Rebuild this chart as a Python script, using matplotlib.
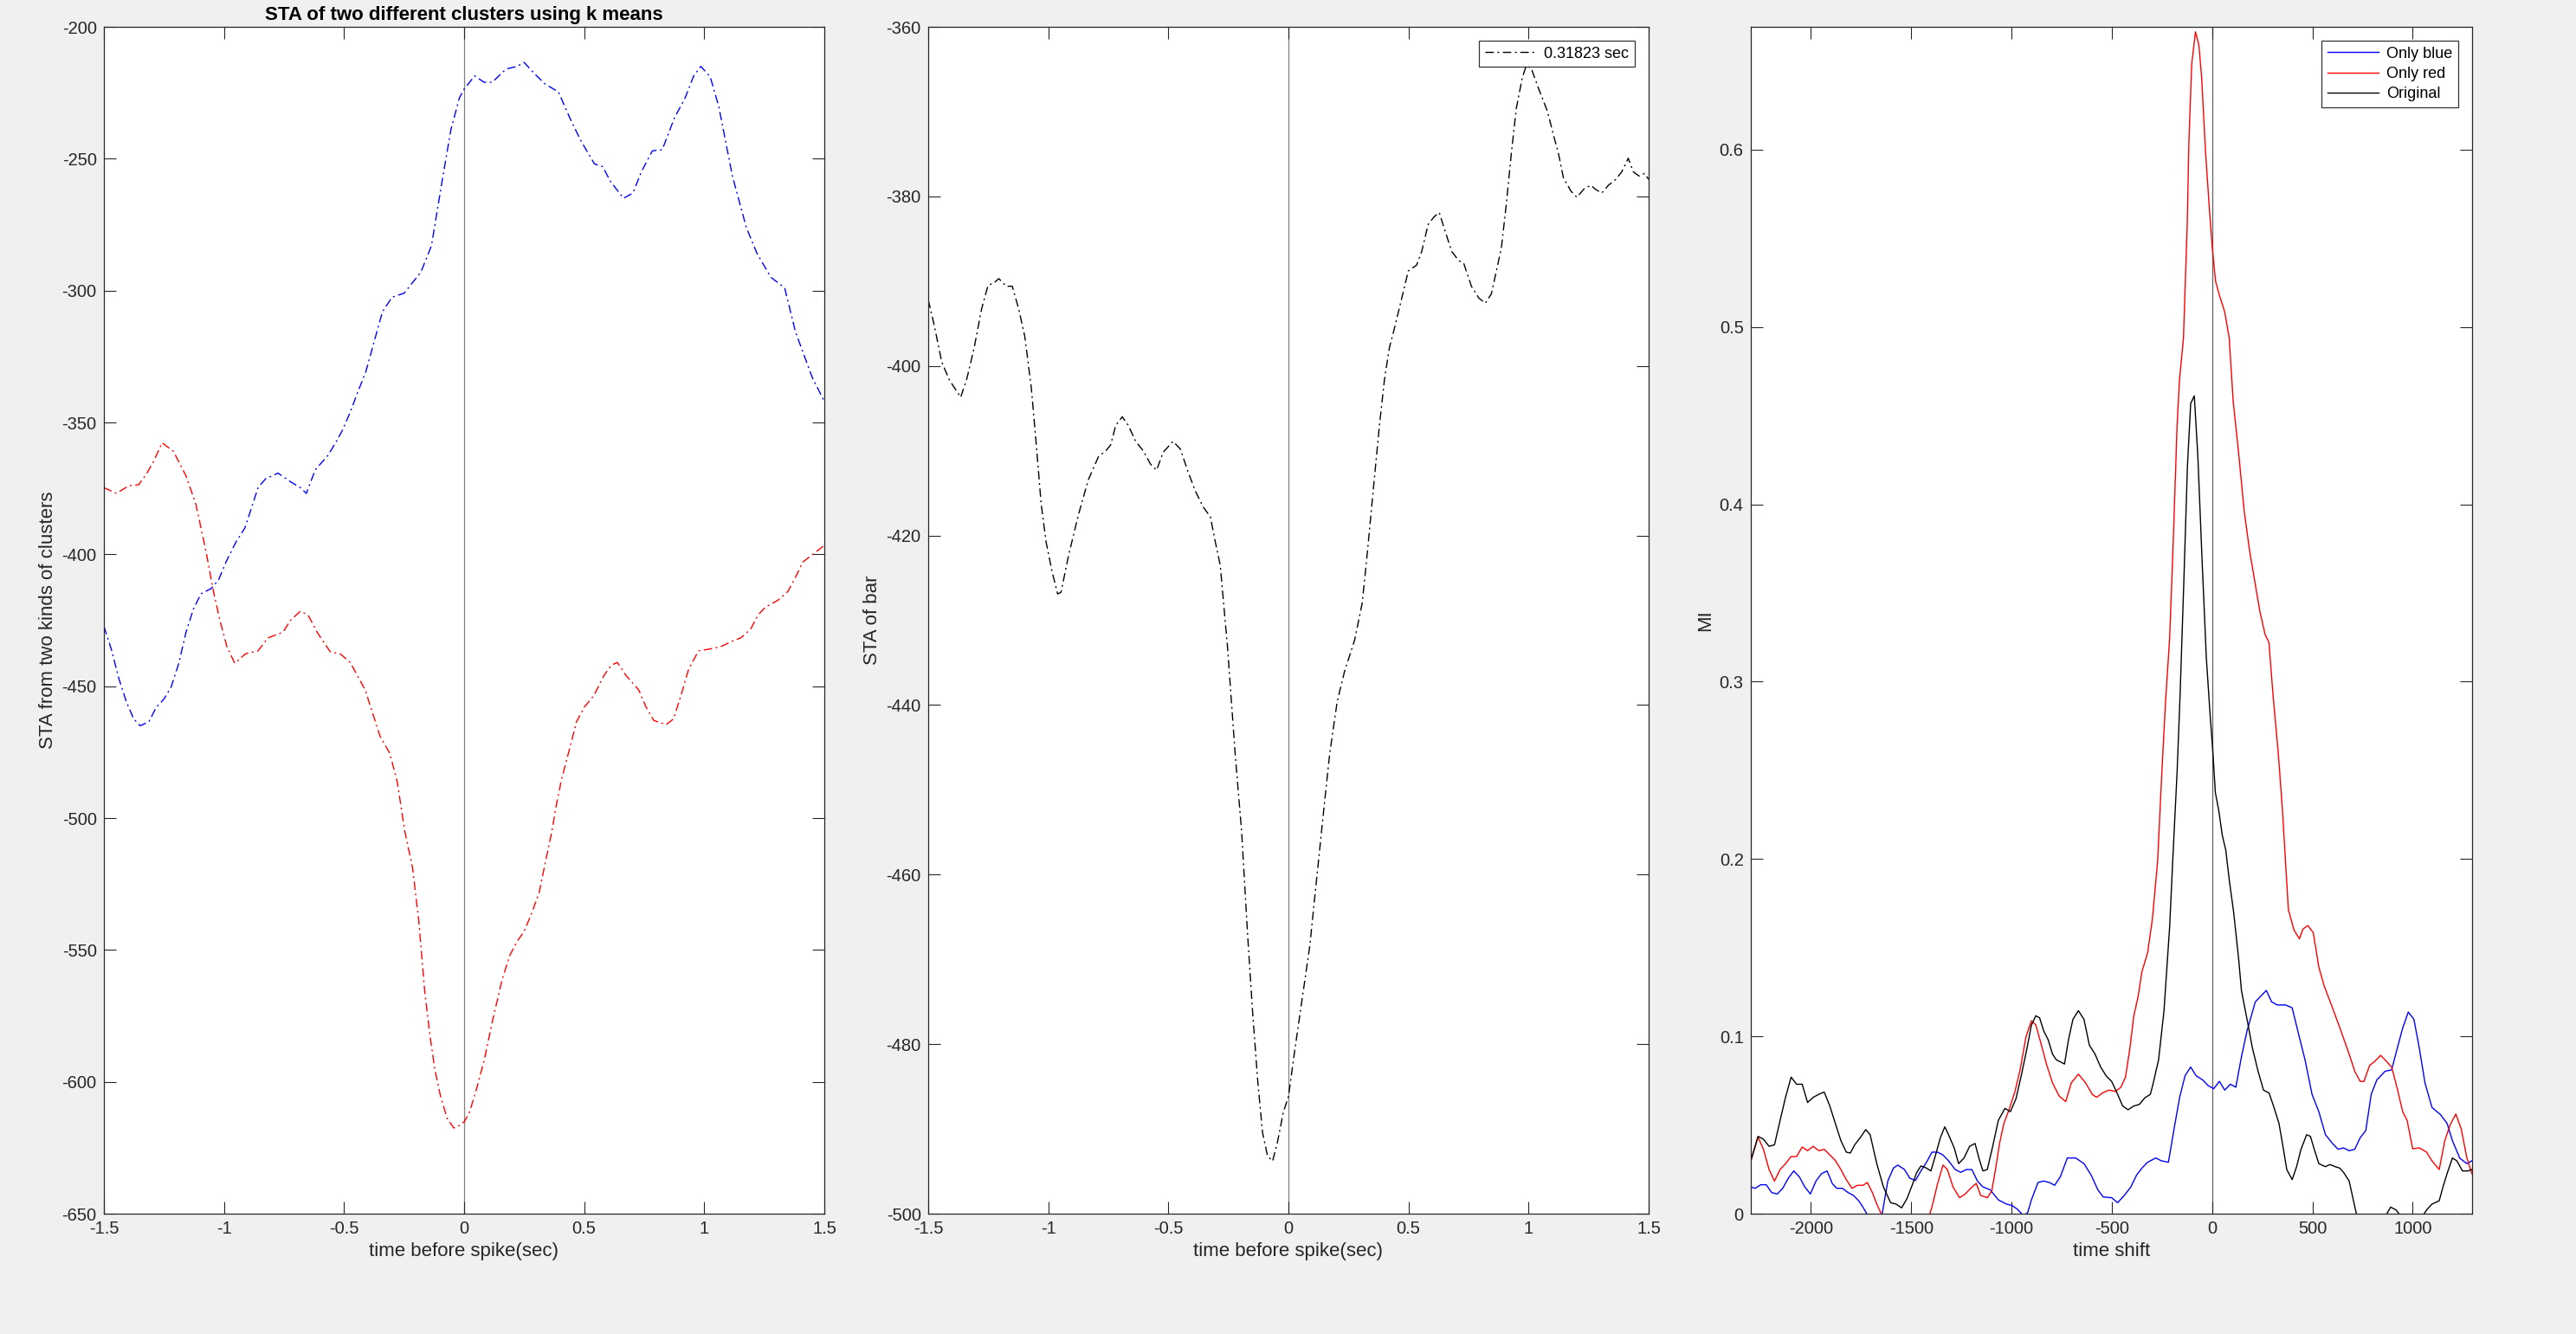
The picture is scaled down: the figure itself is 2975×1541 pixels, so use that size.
import matplotlib
matplotlib.use("Agg")
import matplotlib.pyplot as plt
import numpy as np

plt.rcParams['font.family'] = ['Liberation Sans', 'DejaVu Sans']
plt.rcParams['axes.unicode_minus'] = False

# ---------------- Panel 1: STA of two clusters ----------------
blue_t = [-1.5, -1.469, -1.438, -1.407, -1.376, -1.349, -1.313, -1.282, -1.251, -1.22,
          -1.189, -1.158, -1.127, -1.096, -1.054, -1.023, -0.992, -0.951, -0.913, -0.889,
          -0.858, -0.827, -0.775, -0.723, -0.682, -0.657, -0.62, -0.568, -0.537, -0.505,
          -0.474, -0.443, -0.41, -0.34, -0.30, -0.25, -0.18, -0.136, -0.09, -0.055,
          -0.02, 0.0, 0.044, 0.083, 0.117, 0.175, 0.22, 0.25, 0.29, 0.336,
          0.393, 0.44, 0.485, 0.543, 0.577, 0.61, 0.664, 0.703, 0.738, 0.784,
          0.825, 0.876, 0.92, 0.956, 0.986, 1.025, 1.06, 1.117, 1.175, 1.22,
          1.278, 1.335, 1.38, 1.45, 1.5]
blue_v = [-427.3, -436, -447, -455.8, -462.4, -465, -463.5, -458, -455, -450.3,
          -441.6, -429.5, -420.7, -415, -413, -409.8, -403, -395.5, -390, -383.4,
          -374.7, -371.4, -369.2, -372.5, -374.7, -376.9, -368, -362.6, -358, -352.7,
          -346, -338.5, -331, -308, -302.5, -301, -293, -283, -257.6, -239,
          -227, -223.6, -218.6, -221, -221, -216, -215, -213.5, -217.5, -221.6,
          -224.7, -234.5, -243, -252, -253, -258.7, -265, -263, -255, -247,
          -246.6, -234.5, -227, -218.6, -215, -219, -230, -256.5, -276, -286,
          -295, -299, -315.7, -333, -342]

red_t = [-1.5, -1.448, -1.396, -1.355, -1.324, -1.293, -1.258, -1.21, -1.158, -1.117,
         -1.075, -1.044, -1.017, -0.988, -0.955, -0.91, -0.858, -0.817, -0.754, -0.723,
         -0.682, -0.65, -0.609, -0.557, -0.516, -0.474, -0.412, -0.35, -0.309, -0.278,
         -0.247, -0.215, -0.189, -0.164, -0.143, -0.122, -0.097, -0.07, -0.043, -0.029,
         0.002, 0.023, 0.054, 0.085, 0.116, 0.157, 0.189, 0.22, 0.25, 0.282,
         0.313, 0.334, 0.365, 0.385, 0.406, 0.437, 0.468, 0.5, 0.54, 0.582,
         0.613, 0.638, 0.675, 0.727, 0.758, 0.79, 0.841, 0.872, 0.903, 0.934,
         0.976, 1.017, 1.069, 1.12, 1.152, 1.193, 1.224, 1.255, 1.307, 1.349,
         1.38, 1.41, 1.452, 1.5]
red_v = [-374.7, -376.9, -374, -373.6, -369.7, -364.8, -357.7, -361, -370.3, -381,
         -398.8, -414, -425, -435, -441.3, -437.7, -436.6, -431.7, -429.5, -425,
         -421.6, -423, -430, -437, -437.7, -441, -451.4, -469, -475.5, -486.5,
         -505, -518.7, -538.8, -565.7, -581.9, -595.3, -606, -614, -617.5, -617.2,
         -615, -611.4, -602, -591.3, -577.8, -561.7, -552.3, -546.9, -542.9, -536,
         -528, -518.7, -505.3, -494.6, -485.2, -474.5, -463.5, -458, -453.6, -446,
         -442, -441, -446, -451.4, -458, -463, -464.6, -462.4, -453.6, -443.8,
         -436.6, -436, -435, -432.8, -431.7, -428.4, -423, -420, -417.4, -414,
         -408.7, -403, -400, -396.6]

# ---------------- Panel 2: STA of bar ----------------
bar_t = [-1.5, -1.475, -1.444, -1.413, -1.388, -1.365, -1.34, -1.309, -1.278, -1.251,
         -1.226, -1.206, -1.175, -1.15, -1.123, -1.098, -1.071, -1.05, -1.03, -1.009,
         -0.984, -0.961, -0.947, -0.916, -0.874, -0.833, -0.791, -0.76, -0.74, -0.719,
         -0.692, -0.667, -0.636, -0.605, -0.574, -0.549, -0.522, -0.481, -0.45, -0.418,
         -0.387, -0.356, -0.325, -0.305, -0.284, -0.253, -0.222, -0.195, -0.17, -0.149,
         -0.128, -0.108, -0.087, -0.066, -0.046, -0.021, 0.0, 0.027, 0.058, 0.089,
         0.12, 0.151, 0.172, 0.203, 0.234, 0.276, 0.307, 0.327, 0.348, 0.379,
         0.4, 0.42, 0.441, 0.472, 0.499, 0.534, 0.555, 0.582, 0.607, 0.628,
         0.648, 0.68, 0.71, 0.73, 0.762, 0.793, 0.82, 0.845, 0.866, 0.887,
         0.907, 0.928, 0.949, 0.974, 0.99, 1.01, 1.042, 1.079, 1.104, 1.125,
         1.145, 1.177, 1.201, 1.235, 1.26, 1.28, 1.305, 1.332, 1.363, 1.388,
         1.415, 1.436, 1.46, 1.483, 1.5]
bar_v = [-392.2, -395.2, -399.5, -401.6, -402.7, -403.7, -401.6, -397.9, -393.3, -390.5,
         -390.2, -389.7, -390.6, -390.6, -393.3, -396.5, -402.5, -409.3, -416.2, -420.8,
         -424.3, -426.9, -426.7, -422.4, -417.5, -413.4, -410.7, -410, -409.3, -407,
         -406, -407, -408.9, -410, -411.6, -412.3, -410.2, -408.9, -409.8, -412.5,
         -414.8, -416.6, -417.8, -420.7, -423.5, -433.4, -445.7, -454.9, -467.1, -476.3,
         -484.3, -490.4, -493.2, -493.8, -491.6, -488, -486.2, -480.6, -474.5, -468.4,
         -459.8, -451.3, -445.7, -439.6, -436, -432.3, -428, -422.5, -416.2, -407,
         -401.6, -397.9, -395.6, -392, -388.8, -388.1, -386.5, -383.3, -382.4, -381.9,
         -383.7, -386.5, -387.6, -387.9, -390.6, -392, -392.6, -391.5, -388.8, -386,
         -381, -375, -369.6, -366, -364.6, -364.8, -367.3, -370, -372.8, -375,
         -377.8, -379.4, -380.1, -379, -378.7, -379.2, -379.6, -378.7, -378, -377.1,
         -375.5, -377.1, -377.6, -377.3, -378]
bar_label = "0.31823 sec"

# ---------------- Panel 3: MI vs time shift ----------------
orig_t = [-2300, -2264, -2237, -2209, -2182, -2154, -2127, -2099, -2072, -2044,
          -2017, -1989, -1961, -1934, -1906, -1879, -1851, -1824, -1804, -1782,
          -1755, -1727, -1705, -1672, -1639, -1603, -1576, -1548, -1521, -1493,
          -1474, -1452, -1424, -1402, -1383, -1355, -1333, -1314, -1286, -1264,
          -1237, -1209, -1182, -1163, -1143, -1121, -1094, -1066, -1033, -1006,
          -978, -950, -923, -901, -879, -860, -840, -818, -796, -777,
          -736, -716, -694, -667, -639, -612, -584, -556, -529, -501,
          -474, -446, -419, -391, -363, -336, -308, -295, -267, -240,
          -212, -194, -175, -160, -141, -123, -107, -89, -71, -50,
          -29, -10, 3, 16, 34, 50, 68, 86, 107, 132,
          146, 174, 201, 229, 256, 284, 306, 333, 353, 372,
          399, 421, 443, 471, 490, 509, 532, 565, 587, 614,
          636, 655, 683, 702, 719, 780, 840, 890, 917, 931,
          1000, 1069, 1096, 1132, 1151, 1171, 1198, 1220, 1248, 1275,
          1295]
orig_v = [0.0298, 0.0436, 0.042, 0.038, 0.0388, 0.0526, 0.0656, 0.077, 0.073, 0.073,
          0.0627, 0.0656, 0.0673, 0.0686, 0.0607, 0.051, 0.0412, 0.0347, 0.0342, 0.0388,
          0.0428, 0.0474, 0.0445, 0.0282, 0.0151, 0.0062, 0.0054, 0.0033, 0.0086, 0.0168,
          0.023, 0.0269, 0.0257, 0.0241, 0.0314, 0.0428, 0.049, 0.0445, 0.0371, 0.0282,
          0.0314, 0.038, 0.0396, 0.0314, 0.0241, 0.0249, 0.038, 0.0526, 0.0594, 0.0575,
          0.0648, 0.0787, 0.0933, 0.1064, 0.1116, 0.1104, 0.1031, 0.0982, 0.09, 0.0868,
          0.0844, 0.0982, 0.1096, 0.1145, 0.1096, 0.095, 0.09, 0.0827, 0.0778, 0.0746,
          0.068, 0.0607, 0.0586, 0.0607, 0.0616, 0.0653, 0.0673, 0.073, 0.0868, 0.1145,
          0.1616, 0.205, 0.2484, 0.2919, 0.357, 0.422, 0.4569, 0.4612, 0.4265, 0.368,
          0.3136, 0.281, 0.2615, 0.2375, 0.2267, 0.2137, 0.205, 0.1876, 0.1702, 0.1438,
          0.1259, 0.1096, 0.0933, 0.0803, 0.0697, 0.068, 0.0607, 0.051, 0.038, 0.0249,
          0.0192, 0.0265, 0.0363, 0.0445, 0.0436, 0.0363, 0.0282, 0.0265, 0.0277, 0.0265,
          0.0257, 0.0233, 0.0184, 0.0086, 0.0, -0.010, -0.006, 0.0037, 0.0021, 0.0,
          -0.010, 0.0021, 0.0054, 0.0073, 0.0151, 0.0225, 0.0314, 0.0298, 0.0241, 0.0241,
          0.0249]

red_mi_t = [-2300, -2264, -2237, -2209, -2182, -2154, -2127, -2099, -2072, -2044,
            -2017, -1989, -1961, -1934, -1906, -1879, -1851, -1824, -1796, -1768,
            -1741, -1719, -1694, -1672, -1650, -1600, -1520, -1450, -1410, -1397,
            -1369, -1342, -1320, -1292, -1259, -1231, -1204, -1176, -1154, -1121,
            -1099, -1080, -1060, -1038, -1011, -983, -956, -928, -901, -879,
            -851, -824, -796, -763, -730, -702, -667, -631, -598, -576,
            -548, -515, -482, -455, -432, -410, -391, -369, -350, -322,
            -298, -272, -251, -233, -212, -194, -175, -163, -143, -124,
            -116, -102, -83, -66, -52, -33, -14, 0, 17, 36,
            63, 85, 105, 132, 160, 186, 212, 238, 264, 283,
            304, 330, 351, 380, 408, 435, 453, 477, 504, 532,
            559, 600, 642, 683, 711, 738, 757, 785, 812, 840,
            868, 895, 923, 950, 972, 1000, 1033, 1069, 1096, 1132,
            1160, 1187, 1215, 1242, 1270, 1295]
red_mi_v = [0.0298, 0.0432, 0.0363, 0.0249, 0.0184, 0.0249, 0.0282, 0.0322, 0.0322, 0.0376,
            0.0355, 0.038, 0.0355, 0.0363, 0.0331, 0.0301, 0.0249, 0.0192, 0.0143, 0.016,
            0.016, 0.0176, 0.0119, 0.0054, 0.0, -0.010, -0.014, -0.008, -0.001, 0.0037,
            0.0168, 0.0274, 0.0249, 0.0151, 0.009, 0.0111, 0.0143, 0.0171, 0.0103, 0.009,
            0.0127, 0.0249, 0.0396, 0.051, 0.0591, 0.0689, 0.0819, 0.0998, 0.1088, 0.1064,
            0.095, 0.0836, 0.0738, 0.0664, 0.0632, 0.0738, 0.0787, 0.0738, 0.0673, 0.0656,
            0.068, 0.0697, 0.0689, 0.0713, 0.077, 0.0933, 0.1112, 0.1226, 0.1365, 0.147,
            0.166, 0.1985, 0.2484, 0.2875, 0.3244, 0.3787, 0.4439, 0.4700, 0.4938, 0.5587,
            0.604, 0.648, 0.6665, 0.659, 0.64, 0.599, 0.567, 0.5457, 0.526, 0.518,
            0.5084, 0.4938, 0.4580, 0.429, 0.396, 0.3744, 0.357, 0.3396, 0.3266, 0.3223,
            0.2919, 0.2593, 0.2267, 0.1715, 0.16, 0.155, 0.1605, 0.1625, 0.1585, 0.139,
            0.1283, 0.1161, 0.1031, 0.09, 0.0803, 0.0746, 0.0746, 0.0836, 0.086, 0.0893,
            0.086, 0.0827, 0.0705, 0.0575, 0.0526, 0.0366, 0.0371, 0.0347, 0.0298, 0.0249,
            0.0412, 0.0502, 0.0562, 0.0477, 0.0314, 0.0225]

blue_mi_t = [-2300, -2278, -2251, -2223, -2196, -2168, -2141, -2113, -2086, -2058,
             -2031, -2003, -1975, -1948, -1920, -1893, -1871, -1843, -1815, -1788,
             -1760, -1741, -1722, -1690, -1645, -1617, -1589, -1567, -1534, -1507,
             -1479, -1452, -1424, -1397, -1369, -1342, -1314, -1281, -1253, -1226,
             -1198, -1170, -1143, -1107, -1066, -1025, -997, -970, -942, -920,
             -901, -868, -840, -812, -785, -757, -722, -680, -639, -603,
             -570, -543, -501, -471, -438, -405, -377, -350, -322, -281,
             -253, -218, -190, -162, -135, -107, -80, -47, -19, 8,
             36, 63, 91, 118, 146, 174, 215, 242, 270, 297,
             325, 366, 399, 427, 463, 498, 532, 565, 600, 628,
             655, 683, 711, 738, 766, 793, 821, 862, 895, 923,
             950, 978, 1006, 1033, 1061, 1096, 1138, 1171, 1198, 1234,
             1270, 1295]
blue_mi_v = [0.0151, 0.0143, 0.0163, 0.0163, 0.0119, 0.0111, 0.0143, 0.02, 0.0241, 0.0208,
             0.0151, 0.0111, 0.0184, 0.0225, 0.0241, 0.0168, 0.0143, 0.0143, 0.0119, 0.0103,
             0.007, 0.0037, 0.0, -0.006, 0.0, 0.0184, 0.0257, 0.0274, 0.0249, 0.02,
             0.0187, 0.0241, 0.029, 0.0347, 0.0347, 0.0331, 0.0298, 0.0249, 0.0233, 0.0249,
             0.0249, 0.0184, 0.0151, 0.0135, 0.0078, 0.0054, 0.0046, 0.0024, -0.001, 0.0005,
             0.0078, 0.0176, 0.0184, 0.0176, 0.016, 0.0208, 0.0314, 0.0314, 0.0282, 0.0217,
             0.0135, 0.0094, 0.009, 0.0062, 0.0103, 0.0151, 0.0217, 0.0257, 0.029, 0.0314,
             0.0298, 0.029, 0.0477, 0.0656, 0.0778, 0.0827, 0.0778, 0.0754, 0.0721, 0.0705,
             0.0746, 0.0697, 0.073, 0.0713, 0.0884, 0.1031, 0.1194, 0.1226, 0.1259, 0.1194,
             0.1177, 0.1177, 0.1161, 0.1031, 0.0868, 0.0673, 0.0575, 0.0445, 0.0396, 0.0363,
             0.0371, 0.0355, 0.0363, 0.0428, 0.0469, 0.0673, 0.0754, 0.0803, 0.0811, 0.0933,
             0.1047, 0.1137, 0.1096, 0.0933, 0.0738, 0.0599, 0.0559, 0.051, 0.0412, 0.0314,
             0.0282, 0.0298]

mi_labels = ["Only blue", "Only red", "Original"]

# ---------------- Figure ----------------
W, H = 2975, 1541
fig = plt.figure(figsize=(W / 100, H / 100), dpi=100, facecolor='#f0f0f0')

txt = '#262626'
tick_fs = 14.5
lab_fs = 16
leg_fs = 13
dashdot = (0, (7, 3, 1.5, 3))

ax_bottom = (H - 1402) / H
ax_h = (1402 - 31) / H
lefts = [120, 1072, 2022]
widths = [832, 832, 833]
axes = [fig.add_axes([l / W, ax_bottom, w / W, ax_h]) for l, w in zip(lefts, widths)]

for ax in axes:
    ax.set_facecolor('white')
    for s in ax.spines.values():
        s.set_color(txt)
        s.set_linewidth(0.9)
    ax.tick_params(direction='in', length=10, width=0.8, colors=txt, labelsize=tick_fs,
                   top=True, right=True, pad=6)

xt = [-1.5, -1, -0.5, 0, 0.5, 1, 1.5]
xtl = ['-1.5', '-1', '-0.5', '0', '0.5', '1', '1.5']

# Panel 1
ax = axes[0]
ax.axvline(0, color='#808080', lw=0.9, zorder=1)
ax.plot(blue_t, blue_v, color=(0, 0, 1), lw=1.0, linestyle=dashdot)
ax.plot(red_t, red_v, color=(1, 0, 0), lw=1.0, linestyle=dashdot)
ax.set_xlim(-1.5, 1.5)
ax.set_ylim(-650, -200)
ax.set_xticks(xt)
ax.set_xticklabels(xtl)
ax.set_yticks(np.arange(-650, -199, 50))
ax.set_yticklabels([str(v) for v in range(-650, -199, 50)])
ax.set_xlabel('time before spike(sec)', fontsize=lab_fs, color=txt)
ax.set_ylabel('STA from two kinds of clusters', fontsize=lab_fs, color=txt)
ax.set_title('STA of two different clusters using k means', fontsize=16, fontweight='bold',
             color='black', pad=6)

# Panel 2
ax = axes[1]
ax.axvline(0, color='#808080', lw=0.9, zorder=1)
ax.plot(bar_t, bar_v, color='black', lw=1.0, linestyle=dashdot, label=bar_label)
ax.set_xlim(-1.5, 1.5)
ax.set_ylim(-500, -360)
ax.set_xticks(xt)
ax.set_xticklabels(xtl)
ax.set_yticks(np.arange(-500, -359, 20))
ax.set_yticklabels([str(v) for v in range(-500, -359, 20)])
ax.set_xlabel('time before spike(sec)', fontsize=lab_fs, color=txt)
ax.set_ylabel('STA of bar', fontsize=lab_fs, color=txt)
leg = ax.legend(loc='upper right', fontsize=leg_fs, frameon=True, fancybox=False,
                edgecolor='black', handlelength=3.3, borderaxespad=0.9, borderpad=0.35,
                handletextpad=0.5)
leg.get_frame().set_linewidth(0.9)

# Panel 3
ax = axes[2]
ax.axvline(0, color='#606060', lw=0.9, zorder=1)
ax.plot(blue_mi_t, blue_mi_v, color=(0, 0, 1), lw=1.0, label=mi_labels[0])
ax.plot(red_mi_t, red_mi_v, color=(1, 0, 0), lw=1.0, label=mi_labels[1])
ax.plot(orig_t, orig_v, color='black', lw=1.0, label=mi_labels[2])
ax.set_xlim(-2300, 1296)
ax.set_ylim(0, 0.6693)
ax.set_xticks([-2000, -1500, -1000, -500, 0, 500, 1000])
ax.set_xticklabels(['-2000', '-1500', '-1000', '-500', '0', '500', '1000'])
ax.set_yticks([0, 0.1, 0.2, 0.3, 0.4, 0.5, 0.6])
ax.set_yticklabels(['0', '0.1', '0.2', '0.3', '0.4', '0.5', '0.6'])
ax.set_xlabel('time shift', fontsize=lab_fs, color=txt)
ax.set_ylabel('MI', fontsize=lab_fs, color=txt)
leg = ax.legend(loc='upper right', fontsize=leg_fs, frameon=True, fancybox=False,
                edgecolor='black', handlelength=3.3, borderaxespad=0.9, borderpad=0.35,
                handletextpad=0.5, labelspacing=0.35)
leg.get_frame().set_linewidth(0.9)

fig.savefig('out.png', dpi=100, facecolor=fig.get_facecolor())
